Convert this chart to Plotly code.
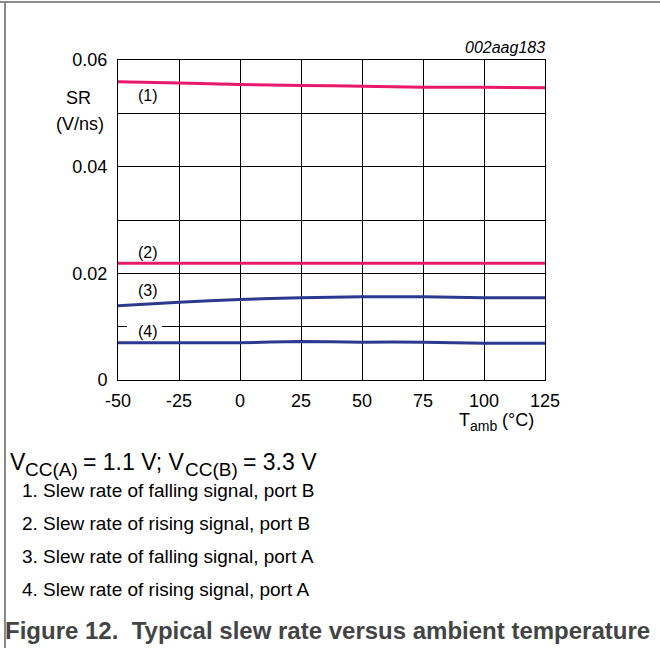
import plotly.graph_objects as go

temps = [-50, -25, 0, 25, 50, 75, 100, 125]
sr_fall_b = [0.0559, 0.0557, 0.0554, 0.0552, 0.0551, 0.0549, 0.0549, 0.0548]
sr_rise_b = [0.0219, 0.0219, 0.0219, 0.0219, 0.0219, 0.0219, 0.0219, 0.0219]
sr_fall_a = [0.0139, 0.0146, 0.0151, 0.0154, 0.0156, 0.0156, 0.0154, 0.0154]
sr_rise_a = [0.0070, 0.0070, 0.0070, 0.0072, 0.0071, 0.0071, 0.0069, 0.0069]

x_ticks = [-50, -25, 0, 25, 50, 75, 100, 125]
x_ticktext = ["-50", "-25", "0", "25", "50", "75", "100", "125"]
y_ticks = [0, 0.02, 0.04, 0.06]
y_ticktext = ["0", "0.02", "0.04", "0.06"]

curve_labels = ["(1)", "(2)", "(3)", "(4)"]
notes = [
    "Slew rate of falling signal, port B",
    "Slew rate of rising signal, port B",
    "Slew rate of falling signal, port A",
    "Slew rate of rising signal, port A",
]
# condition text split into (text, is_subscript) pieces
condition_parts = [("V", False), ("CC(A)", True), ("= 1.1 V; V", False),
                   ("CC(B)", True), ("= 3.3 V", False)]
xtitle_parts = [("T", False), ("amb", True), ("(°C)", False)]
caption = "Figure 12.  Typical slew rate versus ambient temperature"
chart_id = "002aag183"

PINK = "#e8196a"
BLUE = "#2b3a8f"
FONT = "Liberation Sans, Arial, sans-serif"

# Arial / Liberation Sans advance widths (em)
ADV = {"V": .667, "C": .722, "(": .333, ")": .333, "A": .667, "B": .667, " ": .278,
       "=": .584, "1": .556, "3": .556, ".": .278, ";": .278, "T": .611, "a": .556,
       "m": .833, "b": .556, "°": .4}

def width(s, size):
    return sum(ADV.get(c, .556) for c in s) * size

W, H = 660, 648
L, R, T, B = 118, 545, 60, 380

def px(x, y):
    return (x - L) / (R - L), (B - y) / (B - T)

fig = go.Figure()
for ys, col in [(sr_fall_b, PINK), (sr_rise_b, PINK), (sr_fall_a, BLUE), (sr_rise_a, BLUE)]:
    fig.add_trace(go.Scatter(x=temps, y=ys, mode="lines",
                             line=dict(color=col, width=3, shape="spline", smoothing=0.6),
                             showlegend=False, hoverinfo="skip"))

fig.update_layout(
    width=W, height=H,
    margin=dict(l=L, r=W - R, t=T, b=H - B),
    paper_bgcolor="white", plot_bgcolor="white",
    font=dict(family=FONT, color="black"),
    showlegend=False,
)
fig.update_xaxes(range=[-50, 125], tickvals=x_ticks, ticktext=x_ticktext, showgrid=True,
                 gridcolor="black", gridwidth=1, showline=True, linecolor="black",
                 linewidth=1, mirror=True, zeroline=False, ticks="",
                 tickfont=dict(size=18), ticklabelstandoff=4)
fig.update_yaxes(range=[0, 0.06], tickvals=y_ticks, ticktext=y_ticktext, showgrid=True,
                 gridcolor="black", gridwidth=1, showline=True, linecolor="black",
                 linewidth=1, mirror=True, zeroline=False, ticks="",
                 minor=dict(dtick=0.01, showgrid=True, gridcolor="black", gridwidth=1),
                 tickfont=dict(size=18), ticklabelstandoff=6)

ann = []
def text(x, y, s, size=17, xanchor="center", **kw):
    xp, yp = px(x, y)
    ann.append(dict(x=xp, y=yp, xref="paper", yref="paper", text=s, showarrow=False,
                    xanchor=xanchor, yanchor="middle", borderpad=0,
                    font=dict(size=size, family=FONT, color=kw.pop("color", "black")), **kw))

def run(x0, y_main, y_sub, parts, main_size, sub_size, gap=1.0):
    x = x0
    for i, (s, is_sub) in enumerate(parts):
        size = sub_size if is_sub else main_size
        if i > 0 and not is_sub:
            x += width(" ", main_size) * gap
        text(x, y_sub if is_sub else y_main, s, size, xanchor="left")
        x += width(s, size)
    return x

text(78, 98, "SR", 18)
text(80, 124, "(V/ns)", 18)
text(546, 47, "<i>" + chart_id + "</i>", 16, xanchor="right")

# x-axis title T_amb (°C), right end near 533
xt_w = width("T", 18) + width("amb", 14) + width(" (°C)", 18)
run(533 - xt_w, 420, 426, xtitle_parts, 18, 14)

lab_pos = [(148, 95), (148, 252), (148, 290), (148, 331)]
for lbl, (lx, ly) in zip(curve_labels, lab_pos):
    text(lx, ly, lbl, 16)

# white gap in the 0.01 gridline behind label (4)
fig.add_shape(type="rect", xref="x", yref="y", x0=-46.3, x1=-32, y0=0.0097, y1=0.0103,
              fillcolor="white", line=dict(width=0), layer="between")

run(9, 462, 469, condition_parts, 23, 19, gap=0.8)
for i, s in enumerate(notes):
    y = 490 + i * 33
    text(21, y, f"{i + 1}.", 19, xanchor="left")
    text(42, y, s, 19, xanchor="left")
text(4, 630, "<b>" + caption + "</b>", 24, xanchor="left", color="#444444")

fig.update_layout(annotations=ann)

# figure frame (top and left rule)
fig.add_shape(type="line", xref="paper", yref="paper",
              x0=px(0, 2)[0], x1=px(W, 2)[0], y0=px(0, 2)[1], y1=px(0, 2)[1],
              line=dict(color="#8a8a8a", width=2))
fig.add_shape(type="line", xref="paper", yref="paper",
              x0=px(5, 0)[0], x1=px(5, 0)[0], y0=px(0, 2)[1], y1=px(0, H)[1],
              line=dict(color="#8a8a8a", width=2))

fig.write_html("out.html", config={"displayModeBar": False},
               post_script="document.body.style.margin='0px';")
